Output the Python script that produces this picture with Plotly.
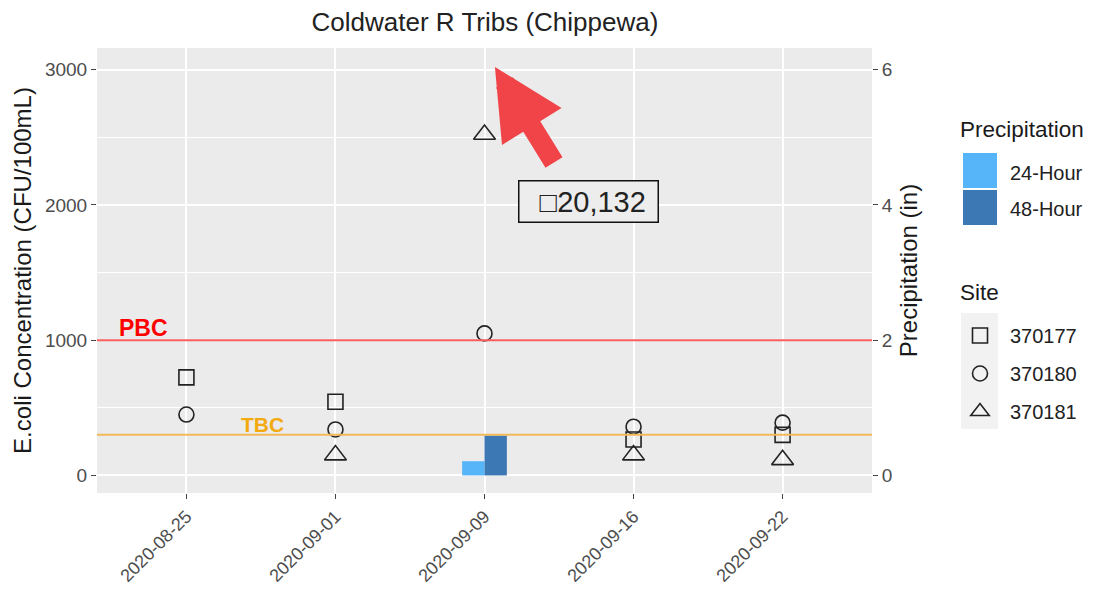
import plotly.graph_objects as go

# ---- data ----
dates = ["2020-08-25", "2020-09-01", "2020-09-09", "2020-09-16", "2020-09-22"]
site_370177 = [725, 545, 20132, 265, 300]
site_370180 = [450, 340, 1050, 360, 390]
site_370181 = [None, 150, 2520, 150, 115]
precip_24h = [0, 0, 0.21, 0, 0]
precip_48h = [0, 0, 0.59, 0, 0]
pbc_value = 1000
tbc_value = 300
site_names = ["370177", "370180", "370181"]
precip_names = ["24-Hour", "48-Hour"]
precip_colors = ["#56B4F9", "#3C78B4"]

FONT = "Liberation Sans, Arial, sans-serif"
TICK_GRAY = "#4D4D4D"
Y_MAX = 3160
Y_MIN = -130
SCALE = 500  # 1 in precipitation = 500 CFU on the left axis
PAGE_OFF = 8  # default body margin of the html page
PLOT_L, PLOT_R, PLOT_T, PLOT_B = 97, 872, 48, 493  # plot area in page pixels


def px_x(x):
    return (x - PLOT_L) / (PLOT_R - PLOT_L)


def px_y(y):
    return (PLOT_B - y) / (PLOT_B - PLOT_T)


fig = go.Figure()

# precipitation bars on secondary axis
for name, vals, col in zip(precip_names, [precip_24h, precip_48h], precip_colors):
    fig.add_trace(go.Bar(x=dates, y=vals, name=name, marker_color=col,
                         marker_line_width=0, yaxis="y2", legend="legend", legendgroup=name))

symbols = ["square-open", "circle-open", "triangle-up-open"]
sizes = [15, 15, 19]
for name, vals, sym, sz in zip(site_names, [site_370177, site_370180, site_370181], symbols, sizes):
    fig.add_trace(go.Scatter(x=dates, y=vals, mode="markers", name=name,
                             marker=dict(symbol=sym, size=sz, color="#222222",
                                         line=dict(width=1.6, color="#222222")),
                             legend="legend2", legendgroup="s" + name, cliponaxis=True))

# threshold lines
fig.add_shape(type="line", xref="x domain", x0=0, x1=1, yref="y", y0=pbc_value, y1=pbc_value,
              line=dict(color="#F75E5E", width=2), layer="above")
fig.add_shape(type="line", xref="x domain", x0=0, x1=1, yref="y", y0=tbc_value, y1=tbc_value,
              line=dict(color="#F2BA58", width=2), layer="above")

fig.add_annotation(x=-0.29, y=pbc_value, xref="x", yref="y", text="<b>PBC</b>", showarrow=False,
                   yanchor="bottom", yshift=-3, font=dict(family=FONT, size=23, color="#FF0000"))
fig.add_annotation(x=0.51, y=tbc_value, xref="x", yref="y", text="<b>TBC</b>", showarrow=False,
                   yanchor="bottom", yshift=-3, font=dict(family=FONT, size=21, color="#F2AA10"))

# off-scale value box
off_val = site_370177[2]
fig.add_annotation(x=2.70, y=2025, xref="x", yref="y", text=f"&nbsp;&nbsp;□{off_val:,}&nbsp;",
                   showarrow=False,
                   font=dict(family=FONT, size=29, color="#222222"), bgcolor="#EDEDED",
                   bordercolor="#111111", borderwidth=1.5, borderpad=4)

# red arrow
fig.add_annotation(x=2.07, y=3020, xref="x", yref="y", ax=60, ay=97, axref="pixel", ayref="pixel",
                   text="", showarrow=True, arrowhead=2, arrowsize=0.7, arrowwidth=20,
                   arrowcolor="#F04448", standoff=0)

# legend titles and key backgrounds (ggplot-style)
fig.add_annotation(x=px_x(958), y=px_y(130), xref="paper", yref="paper", xanchor="left",
                   yanchor="middle", text="Precipitation", showarrow=False,
                   font=dict(size=22.5, color="#1A1A1A"))
fig.add_annotation(x=px_x(958), y=px_y(292), xref="paper", yref="paper", xanchor="left",
                   yanchor="middle", text="Site", showarrow=False,
                   font=dict(size=22.5, color="#1A1A1A"))
fig.add_shape(type="rect", xref="paper", yref="paper", x0=px_x(961), x1=px_x(998),
              y0=px_y(429), y1=px_y(313), fillcolor="#F2F2F2", line_width=0, layer="below")
for i, col in enumerate(precip_colors):
    fig.add_shape(type="rect", xref="paper", yref="paper", x0=px_x(963), x1=px_x(997),
                  y0=px_y(188 + 37 * i), y1=px_y(153 + 37 * i), fillcolor=col, line_width=0,
                  layer="below")

fig.update_layout(
    width=1098, height=594,
    margin=dict(l=PLOT_L - PAGE_OFF, r=1098 + PAGE_OFF - PLOT_R, t=PLOT_T - PAGE_OFF,
                b=594 + PAGE_OFF - PLOT_B, autoexpand=False),
    paper_bgcolor="white", plot_bgcolor="#EBEBEB",
    font=dict(family=FONT, color="#222222"),
    title=dict(text="Coldwater R Tribs (Chippewa)", x=(485 - PAGE_OFF) / 1098, xanchor="center",
               xref="container", yref="container",
               y=1 - (22 - PAGE_OFF) / 594, yanchor="middle", font=dict(size=26, color="#222222")),
    barmode="group", bargap=0.7, bargroupgap=0,
    xaxis=dict(type="category", categoryorder="array", categoryarray=dates, range=[-0.6, 4.6],
               showgrid=True, gridcolor="white", gridwidth=1.5, ticks="outside", ticklen=5,
               tickcolor="#444", tickangle=-45, tickfont=dict(size=18, color=TICK_GRAY),
               zeroline=False, showline=False, automargin=False),
    yaxis=dict(range=[Y_MIN, Y_MAX], tickvals=[0, 1000, 2000, 3000], showgrid=True,
               gridcolor="white", gridwidth=1.5, zeroline=False, ticks="outside", ticklen=5,
               tickcolor="#444", tickfont=dict(size=19, color=TICK_GRAY), automargin=False,
               minor=dict(tickvals=[500, 1500, 2500], showgrid=True, gridcolor="white", gridwidth=0.8),
               title=dict(text="E.coli Concentration (CFU/100mL)", font=dict(size=24, color="#1A1A1A"),
                          standoff=6)),
    yaxis2=dict(range=[Y_MIN / SCALE, Y_MAX / SCALE], tickvals=[0, 2, 4, 6], overlaying="y",
                side="right", showgrid=False, zeroline=False, ticks="outside", ticklen=5,
                tickcolor="#444", tickfont=dict(size=19, color=TICK_GRAY), automargin=False,
                title=dict(text="Precipitation (in)", font=dict(size=24, color="#1A1A1A"), standoff=8)),
    legend=dict(x=px_x(950), y=px_y(153), xanchor="left", yanchor="top", tracegroupgap=7,
                font=dict(size=20, color="#222"), bgcolor="rgba(0,0,0,0)", itemwidth=50),
    legend2=dict(x=px_x(950), y=px_y(316), xanchor="left", yanchor="top", tracegroupgap=9,
                 font=dict(size=20, color="#222"), bgcolor="rgba(0,0,0,0)", itemwidth=50),
    showlegend=True,
)

fig.write_html("out.html")
